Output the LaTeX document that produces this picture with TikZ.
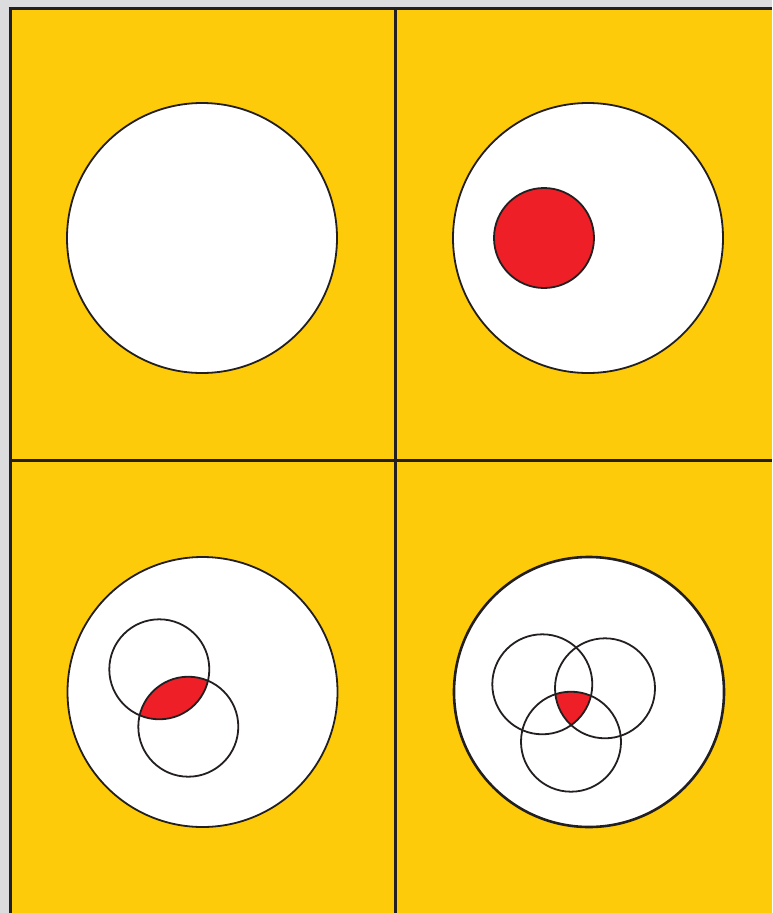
\documentclass[tikz,border=0pt]{standalone}
\definecolor{bggray}{HTML}{DCDCDE}
\definecolor{panelyellow}{HTML}{FECB0A}
\definecolor{setred}{HTML}{EE1F27}
\definecolor{ink}{HTML}{231F20}
\tikzset{
  frameline/.style={draw=ink, line width=3pt},
  bigset/.style={draw=ink, fill=white, line width=1.8pt},
  smallset/.style={draw=ink, line width=1.8pt},
  redfill/.style={fill=setred},
}
\begin{document}
\begin{tikzpicture}[x=1pt,y=-1pt]
\useasboundingbox (0,0) rectangle (772,913);
\fill[bggray] (0,0) rectangle (772,913);
\fill[panelyellow] (10,8.5) rectangle (772,913);
% frame lines
\draw[frameline] (8.5,8.5) -- (772,8.5);
\draw[frameline] (10,8.5) -- (10,913);
\draw[frameline] (395.5,8.5) -- (395.5,913);
\draw[frameline] (10,460) -- (772,460);
% panel 1
\draw[bigset] (202,238) circle (135);
% panel 2
\draw[bigset] (588,238) circle (135);
\draw[smallset, redfill] (544,238) circle (50);
% panel 3
\draw[bigset] (202.5,692) circle (135);
\begin{scope}
  \clip (159.3,669.3) circle (50);
  \fill[setred] (188.3,726.7) circle (50);
\end{scope}
\draw[smallset] (159.3,669.3) circle (50);
\draw[smallset] (188.3,726.7) circle (50);
% panel 4
\draw[bigset, line width=2.6pt] (589,692) circle (135);
\begin{scope}
  \clip (542.3,684.3) circle (50);
  \clip (605,688.3) circle (50);
  \fill[setred] (571,741.7) circle (50);
\end{scope}
\draw[smallset] (542.3,684.3) circle (50);
\draw[smallset] (605,688.3) circle (50);
\draw[smallset] (571,741.7) circle (50);
\end{tikzpicture}
\end{document}
